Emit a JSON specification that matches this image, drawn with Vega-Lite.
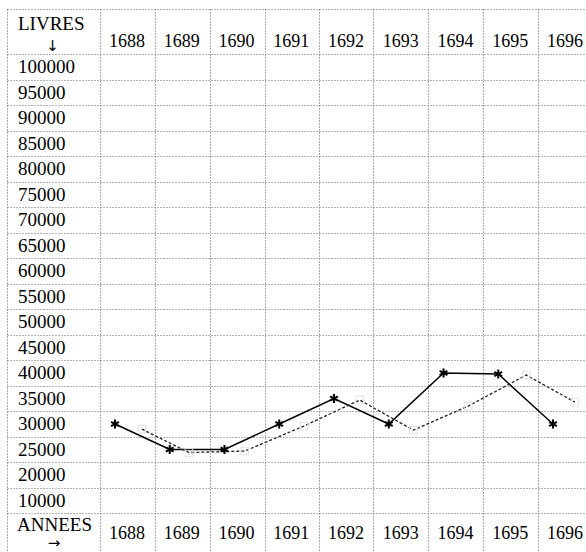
{
  "$schema": "https://vega.github.io/schema/vega-lite/v6.json",
  "width": 579,
  "height": 543,
  "autosize": {"type": "none"},
  "padding": {"left": 7, "top": 9, "right": 0, "bottom": 0},
  "background": "white",
  "view": {"stroke": null},
  "config": {"font": "Liberation Serif"},
  "datasets": {
    "recettes": [
      {"year": 1688, "livres": 30000},
      {"year": 1689, "livres": 25000},
      {"year": 1690, "livres": 25000},
      {"year": 1691, "livres": 30000},
      {"year": 1692, "livres": 35000},
      {"year": 1693, "livres": 30000},
      {"year": 1694, "livres": 40000},
      {"year": 1695, "livres": 39800},
      {"year": 1696, "livres": 30000}
    ],
    "tendance": [
      {"year": 1688.49, "livres": 29000},
      {"year": 1689.35, "livres": 24400},
      {"year": 1690.37, "livres": 24700},
      {"year": 1691.45, "livres": 29600},
      {"year": 1692.47, "livres": 34700},
      {"year": 1693.45, "livres": 28800},
      {"year": 1694.45, "livres": 33500},
      {"year": 1695.51, "livres": 39600},
      {"year": 1696.4, "livres": 34300}
    ],
    "rows": [
      {"label": "100000", "livres": 100000},
      {"label": "95000", "livres": 95000},
      {"label": "90000", "livres": 90000},
      {"label": "85000", "livres": 85000},
      {"label": "80000", "livres": 80000},
      {"label": "75000", "livres": 75000},
      {"label": "70000", "livres": 70000},
      {"label": "65000", "livres": 65000},
      {"label": "60000", "livres": 60000},
      {"label": "55000", "livres": 55000},
      {"label": "50000", "livres": 50000},
      {"label": "45000", "livres": 45000},
      {"label": "40000", "livres": 40000},
      {"label": "35000", "livres": 35000},
      {"label": "30000", "livres": 30000},
      {"label": "25000", "livres": 25000},
      {"label": "20000", "livres": 20000},
      {"label": "10000", "livres": 10000}
    ],
    "years": [
      {"year": 1688}, {"year": 1689}, {"year": 1690}, {"year": 1691}, {"year": 1692},
      {"year": 1693}, {"year": 1694}, {"year": 1695}, {"year": 1696}
    ]
  },
  "layer": [
    {
      "data": {"name": "recettes"},
      "mark": {"type": "line", "color": "black", "strokeWidth": 1.5},
      "encoding": {
        "x": {
          "field": "year", "type": "quantitative", "title": null,
          "scale": {"type": "linear", "domain": [1686.027, 1696.603], "nice": false, "zero": false},
          "axis": {
            "title": null, "labels": false, "ticks": false, "domain": false, "tickCount": 40,
            "grid": true, "gridColor": "#555", "gridDash": [1, 2], "gridWidth": 1,
            "values": [1686.027, 1687.7257, 1688.7303, 1689.7349, 1690.7395, 1691.7258, 1692.7122, 1693.7168, 1694.7214, 1695.726]
          }
        },
        "y": {
          "field": "livres", "type": "quantitative", "title": null,
          "scale": {"type": "linear", "domain": [-98, 10000, 20000, 111373], "range": [543, 491.5, 466, 0], "nice": false, "zero": false},
          "axis": {
            "title": null, "labels": false, "ticks": false, "domain": false, "tickCount": 40,
            "grid": true, "gridColor": "#666", "gridDash": [1, 2], "gridWidth": 1,
            "values": [111373, 102549, 97451, 92549, 87451, 82549, 77451, 72549, 67451, 62549, 57451, 52549, 47451, 42549, 37451, 32549, 27451, 22549, 14902, 7549]
          }
        }
      }
    },
    {
      "data": {"name": "tendance"},
      "mark": {"type": "line", "color": "#222", "strokeWidth": 1.3, "strokeDash": [3, 2]},
      "encoding": {
        "x": {"field": "year", "type": "quantitative", "title": null},
        "y": {"field": "livres", "type": "quantitative", "title": null}
      }
    },
    {
      "data": {"name": "tendance"},
      "mark": {"type": "point", "shape": "square", "filled": false, "stroke": "#e0e0e0", "strokeWidth": 1, "size": 60, "opacity": 1},
      "encoding": {
        "x": {"field": "year", "type": "quantitative", "title": null},
        "y": {"field": "livres", "type": "quantitative", "title": null}
      }
    },
    {
      "data": {"name": "recettes"},
      "mark": {"type": "point", "shape": "M0,-1L0,1M-0.87,-0.5L0.87,0.5M-0.87,0.5L0.87,-0.5", "filled": false, "stroke": "black", "strokeWidth": 2, "size": 80, "opacity": 1},
      "encoding": {
        "x": {"field": "year", "type": "quantitative", "title": null},
        "y": {"field": "livres", "type": "quantitative", "title": null}
      }
    },
    {
      "data": {"name": "rows"},
      "mark": {"type": "text", "align": "left", "baseline": "middle", "dx": 11, "fontSize": 19, "color": "black"},
      "encoding": {
        "x": {"datum": 1686.027, "type": "quantitative", "title": null},
        "y": {"field": "livres", "type": "quantitative", "title": null},
        "text": {"field": "label"}
      }
    },
    {
      "data": {"name": "years"},
      "mark": {"type": "text", "align": "center", "baseline": "middle", "dx": 12, "fontSize": 18, "color": "black"},
      "encoding": {
        "x": {"field": "year", "type": "quantitative", "title": null},
        "y": {"datum": 105000, "type": "quantitative", "title": null},
        "text": {"field": "year", "type": "nominal"}
      }
    },
    {
      "data": {"name": "years"},
      "mark": {"type": "text", "align": "center", "baseline": "middle", "dx": 12, "fontSize": 18, "color": "black"},
      "encoding": {
        "x": {"field": "year", "type": "quantitative", "title": null},
        "y": {"datum": 3430, "type": "quantitative", "title": null},
        "text": {"field": "year", "type": "nominal"}
      }
    },
    {
      "data": {"values": [{"t": "LIVRES"}]},
      "mark": {"type": "text", "align": "left", "baseline": "middle", "dx": 11, "fontSize": 19, "color": "black"},
      "encoding": {
        "x": {"datum": 1686.027, "type": "quantitative", "title": null},
        "y": {"datum": 108400, "type": "quantitative", "title": null},
        "text": {"field": "t"}
      }
    },
    {
      "data": {"values": [{"t": "\u2193\ufe0e"}]},
      "mark": {"type": "text", "align": "center", "baseline": "middle", "dx": 45.5, "fontSize": 15, "color": "black", "font": "DejaVu Sans"},
      "encoding": {
        "x": {"datum": 1686.027, "type": "quantitative", "title": null},
        "y": {"datum": 104200, "type": "quantitative", "title": null},
        "text": {"field": "t"}
      }
    },
    {
      "data": {"values": [{"t": "ANNEES"}]},
      "mark": {"type": "text", "align": "left", "baseline": "middle", "dx": 10, "fontSize": 19, "color": "black"},
      "encoding": {
        "x": {"datum": 1686.027, "type": "quantitative", "title": null},
        "y": {"datum": 5200, "type": "quantitative", "title": null},
        "text": {"field": "t"}
      }
    },
    {
      "data": {"values": [{"t": "\u2192\ufe0e"}]},
      "mark": {"type": "text", "align": "center", "baseline": "middle", "dx": 47, "fontSize": 15, "color": "black", "font": "DejaVu Sans"},
      "encoding": {
        "x": {"datum": 1686.027, "type": "quantitative", "title": null},
        "y": {"datum": 1700, "type": "quantitative", "title": null},
        "text": {"field": "t"}
      }
    }
  ]
}
